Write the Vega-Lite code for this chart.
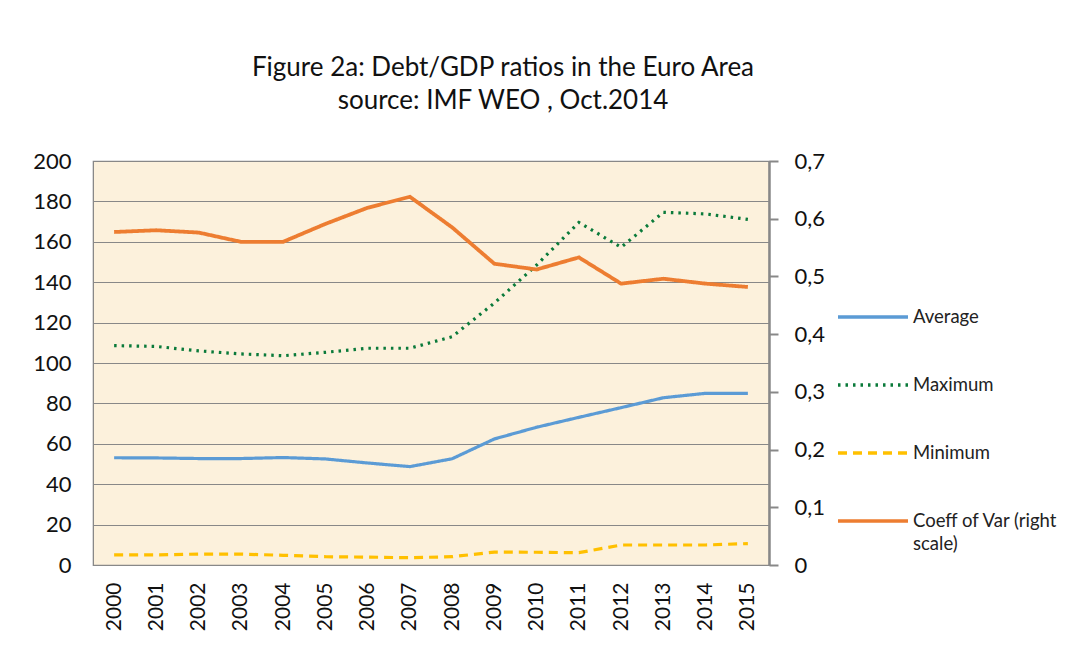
{
  "$schema": "https://vega.github.io/schema/vega-lite/v6.json",
  "autosize": "none",
  "width": 676,
  "height": 404,
  "padding": {"left": 93, "top": 161, "right": 308, "bottom": 105},
  "background": "white",
  "config": {
    "font": "Lato",
    "view": {"fill": "#FCF1DC", "stroke": "#888888", "strokeWidth": 1.2},
    "axis": {"labelFont": "Lato", "labelColor": "#111111", "domainColor": "#888888", "tickColor": "#888888", "gridColor": "#888888", "gridWidth": 1.2},
    "style": {"guide-label": {"lineHeight": 23}}
  },
  "title": {
    "text": ["Figure 2a: Debt/GDP ratios in the Euro Area", "source: IMF WEO , Oct.2014"],
    "font": "Lato",
    "fontSize": 26,
    "fontWeight": "normal",
    "color": "#111111",
    "anchor": "middle",
    "dx": 72,
    "offset": 36,
    "lineHeight": 33
  },
  "data": {
    "values": [
      {"year": "2000", "Average": 53.1, "Maximum": 108.6, "Minimum": 5.0, "Coeff of Var (right scale)": 0.577},
      {"year": "2001", "Average": 53.0, "Maximum": 108.2, "Minimum": 5.0, "Coeff of Var (right scale)": 0.580},
      {"year": "2002", "Average": 52.7, "Maximum": 106.0, "Minimum": 5.4, "Coeff of Var (right scale)": 0.576},
      {"year": "2003", "Average": 52.7, "Maximum": 104.5, "Minimum": 5.4, "Coeff of Var (right scale)": 0.560},
      {"year": "2004", "Average": 53.2, "Maximum": 103.6, "Minimum": 4.8, "Coeff of Var (right scale)": 0.560},
      {"year": "2005", "Average": 52.5, "Maximum": 105.3, "Minimum": 4.1, "Coeff of Var (right scale)": 0.591},
      {"year": "2006", "Average": 50.5, "Maximum": 107.3, "Minimum": 3.9, "Coeff of Var (right scale)": 0.619},
      {"year": "2007", "Average": 48.7, "Maximum": 107.3, "Minimum": 3.6, "Coeff of Var (right scale)": 0.638},
      {"year": "2008", "Average": 52.6, "Maximum": 113.0, "Minimum": 4.1, "Coeff of Var (right scale)": 0.585},
      {"year": "2009", "Average": 62.4, "Maximum": 129.7, "Minimum": 6.4, "Coeff of Var (right scale)": 0.522},
      {"year": "2010", "Average": 68.2, "Maximum": 148.5, "Minimum": 6.3, "Coeff of Var (right scale)": 0.512},
      {"year": "2011", "Average": 73.1, "Maximum": 169.6, "Minimum": 6.1, "Coeff of Var (right scale)": 0.533},
      {"year": "2012", "Average": 77.9, "Maximum": 157.3, "Minimum": 9.9, "Coeff of Var (right scale)": 0.4875},
      {"year": "2013", "Average": 82.8, "Maximum": 174.6, "Minimum": 9.9, "Coeff of Var (right scale)": 0.496},
      {"year": "2014", "Average": 85.0, "Maximum": 173.8, "Minimum": 9.9, "Coeff of Var (right scale)": 0.4875},
      {"year": "2015", "Average": 85.0, "Maximum": 171.1, "Minimum": 10.6, "Coeff of Var (right scale)": 0.4817}
    ]
  },
  "transform": [
    {"fold": ["Average", "Maximum", "Minimum", "Coeff of Var (right scale)"], "as": ["series", "value"]}
  ],
  "encoding": {
    "x": {
      "field": "year", "type": "ordinal",
      "scale": {"type": "point", "padding": 0.5},
      "axis": {"title": null, "labelAngle": -90, "labelFontSize": 21, "labelPadding": 17, "ticks": false, "domain": false, "grid": false}
    },
    "color": {
      "field": "series", "type": "nominal",
      "scale": {"domain": ["Average", "Maximum", "Minimum", "Coeff of Var (right scale)"], "range": ["#5B9BD5", "#0A7A3A", "#FFC000", "#ED7D31"]},
      "legend": {
        "title": null, "orient": "none", "legendX": 743, "legendY": 119,
        "symbolType": "stroke", "symbolSize": 4900, "symbolStrokeWidth": 3.5,
        "labelFontSize": 18.5, "labelFont": "Lato", "labelColor": "#222222", "labelOffset": 3, "rowPadding": 21,
        "labelExpr": "datum.label == 'Coeff of Var (right scale)' ? ['Coeff of Var (right', 'scale)'] : datum.label"
      }
    },
    "strokeDash": {
      "field": "series", "type": "nominal",
      "scale": {"domain": ["Average", "Maximum", "Minimum", "Coeff of Var (right scale)"], "range": [[1, 0], [2.5, 5], [9, 6], [1, 0]]},
      "legend": null
    }
  },
  "layer": [
    {
      "transform": [{"filter": "datum.series != 'Coeff of Var (right scale)'"}],
      "mark": {"type": "line", "strokeWidth": 3.2},
      "encoding": {
        "y": {
          "field": "value", "type": "quantitative",
          "scale": {"domain": [0, 200]},
          "axis": {"title": null, "values": [0, 20, 40, 60, 80, 100, 120, 140, 160, 180, 200], "labelFontSize": 22, "labelPadding": 22, "ticks": false, "domain": true, "grid": true}
        }
      }
    },
    {
      "transform": [{"filter": "datum.series == 'Coeff of Var (right scale)'"}],
      "mark": {"type": "line", "strokeWidth": 3.8},
      "encoding": {
        "y": {
          "field": "value", "type": "quantitative",
          "scale": {"domain": [0, 0.7]},
          "axis": {"title": null, "orient": "right", "values": [0, 0.1, 0.2, 0.3, 0.4, 0.5, 0.6, 0.7], "labelFontSize": 22, "labelPadding": 16, "tickSize": 9, "tickWidth": 2, "domainWidth": 2.5, "grid": false,
            "labelExpr": "datum.value == 0 ? '0' : replace(format(datum.value, '.1f'), '.', ',')"}
        }
      }
    }
  ],
  "resolve": {"scale": {"y": "independent"}}
}
